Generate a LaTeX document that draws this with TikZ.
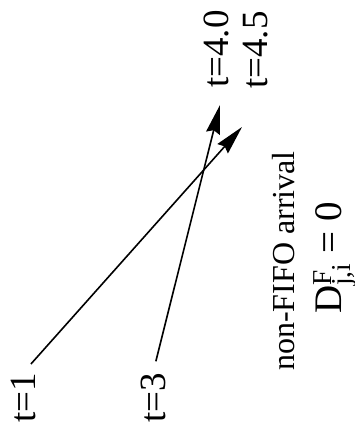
\documentclass[tikz,border=0pt]{standalone}
\usepackage{fontspec}
\setmainfont{Liberation Serif}
\usetikzlibrary{arrows.meta}

\begin{document}
\begin{tikzpicture}[x=1pt, y=-1pt,
  tlabel/.style={rotate=90, anchor=base west, inner sep=0pt,
                 font=\fontsize{37}{44}\selectfont},
  note/.style={rotate=90, anchor=base west, inner sep=0pt,
               font=\fontsize{32}{38}\selectfont},
  arr/.style={-{Stealth[length=29pt, width=14pt, inset=3pt]},
              line width=1.6pt, shorten <=12pt}
]
\useasboundingbox (0,0) rectangle (355,428);
% departures and arrivals
\node[tlabel] (t1)  at (35,423)  {t=1};
\node[tlabel] (t3)  at (165,423) {t=3};
\node[tlabel] (t40) at (228,88)  {t=4.0};
\node[tlabel] (t45) at (267,89)  {t=4.5};
\coordinate (tip40) at (220,105);
\coordinate (tip45) at (242,127);
\node[note] (nf) at (294,371) {non-FIFO arrival};
\node[note, font=\fontsize{39}{46}\selectfont] (dji) at (341,314)
  {D\rlap{\textsuperscript{F}}\textsubscript{j,i} = 0};
\draw[arr] (t1.east) -- (tip45);
\draw[arr] (t3.east) -- (tip40);
\end{tikzpicture}
\end{document}
